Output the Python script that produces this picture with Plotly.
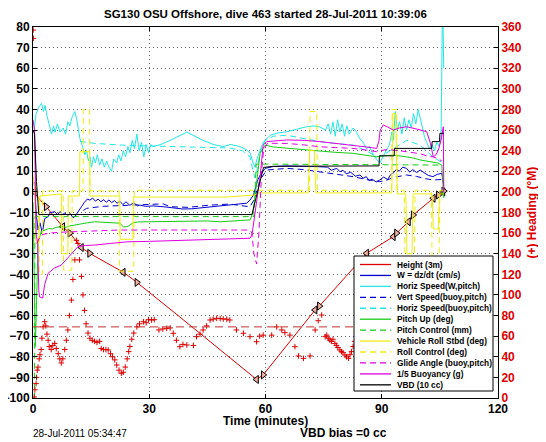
import plotly.graph_objects as go

FONT = "Liberation Sans, Arial, Helvetica, sans-serif"

title_text = "SG130 OSU Offshore, dive 463 started 28-Jul-2011 10:39:06"
x_title = "Time (minutes)"
y2_title = "(+) Heading (°M)"
footer_left = "28-Jul-2011 05:34:47"
footer_mid = "VBD bias =0 cc"
x_ticks = [0, 30, 60, 90, 120]
y_ticks = list(range(-100, 81, 10))
heading_ticks = list(range(0, 361, 20))

# ---------------- data (time in minutes, value) ----------------
height = [(0, 0), (3.4, -7.2), (7.7, -16.9), (9.5, -20.0), (12.5, -27.0), (14.6, -29.8),
          (23.5, -39.2), (26.8, -43.9), (37.9, -60.7), (50.0, -79.0), (57.7, -91.0),
          (59.4, -88.8), (66.0, -73.0), (72.8, -57.3), (73.9, -55.4), (80.0, -42.5),
          (86.1, -29.8), (93.0, -21.7), (93.8, -20.0), (96.9, -14.5), (98.1, -11.2),
          (103.3, -3.1), (104.6, -1.5), (106.0, 0.4)]

gc_start = [(0.3, 0.0), (7.7, -16.9), (12.5, -27.0), (23.3, -39.0), (57.7, -91.0), (72.8, -57.3),
            (86.1, -29.8), (93.0, -21.7), (96.9, -14.5), (103.3, -3.1), (105.8, 0.0)]
gc_end = [(3.4, -7.2), (9.5, -20.0), (14.6, -29.8), (26.8, -43.9), (59.4, -88.8), (73.9, -55.4),
          (93.8, -20.0), (98.1, -11.2), (104.6, -1.5), (106.0, 0.4)]

w_speed = [(0.3, 5), (0.8, -10), (1.3, -18.5), (1.8, -15), (2.4, -20), (3.0, -13), (3.9, -12),
           (4.5, -10), (5.6, -9.6), (6.3, -11), (7.0, -9.5), (7.6, -11), (8.2, -10.3), (9.0, -11.5),
           (9.6, -10.5), (10.3, -12.5), (10.8, -12), (11.6, -10), (12.5, -7.2), (13.3, -5),
           (14.0, -3.5), (14.7, -4), (15.4, -3), (16.1, -4.5), (16.8, -3.5), (17.5, -4.8),
           (18.2, -3.8), (18.9, -5), (19.6, -3.9), (20.3, -5.2), (21.0, -4.2), (21.7, -5.5),
           (22.4, -4.5), (23.2, -6.2), (24.0, -4.8), (25.0, -6.5), (26.0, -5.3), (27.0, -6.8),
           (27.6, -6.4), (29, -7.0), (31, -6.8), (33.6, -7.2), (36, -7.8), (38.7, -8.3),
           (41, -8.2), (43, -7.8), (45.7, -7.2), (48.3, -6.8), (50.8, -6.4), (53, -6.0),
           (55.1, -5.5), (56.0, -4), (56.9, -1.5), (58.0, 5.8), (58.6, 8), (59.9, 11.4),
           (62, 12.3), (65.5, 12.6), (70, 12.5), (74, 12.2), (76, 12.0), (77, 10.5), (78.4, 11.4),
           (79.2, 9.8), (80, 10.5), (80.8, 8.8), (82, 9.5), (83.2, 7.6), (84.4, 8.2), (85.2, 6.6),
           (86, 7.4), (86.8, 5.4), (87.5, 6.2), (88.6, 4.8), (89.5, 5.8), (90.5, 7.2), (91.5, 6.0),
           (92.3, 8.4), (93, 9.2), (93.8, 11.0), (94.5, 10.0), (95.4, 12.0), (96.4, 11.4),
           (97.2, 9.6), (98, 10.8), (99.0, 9.4), (99.9, 10.6), (101, 9.0), (102, 8.0),
           (103.2, 7.4), (104.3, 8.5), (105.5, 9.0), (106.0, 3.0)]

vert_speed_buoy = [(13.0, -9), (13.8, -8), (18, -7), (25, -6.4), (30, -6.2), (33.6, -5.8),
                   (35.4, -7.2), (40, -7.5), (45.7, -6.4), (50.8, -5.9), (53, -6.5), (56, -7.2),
                   (57, -4), (58.6, 5.8), (60.3, 10.6), (63, 11.2), (65.5, 11.4), (70, 10.8),
                   (74, 9.8), (78, 8.7), (82.6, 7.4), (86, 6.0), (89.5, 5.0), (91, 5.5), (93, 7.0),
                   (96.4, 8.2), (99, 7.5), (101, 6.5), (103.2, 5.8), (105.5, 6.0)]

horiz_speed_w = [(0.3, 30), (0.8, 38), (1.5, 41), (2.2, 43), (2.7, 39), (3.1, 42), (3.6, 37),
                 (4.2, 33), (4.8, 28), (5.3, 32), (5.7, 29), (6.3, 33), (7.0, 29), (7.8, 31),
                 (8.4, 28), (9.0, 34), (9.5, 32), (10.2, 37), (10.8, 39), (11.4, 34), (12.1, 26),
                 (12.8, 22), (13.4, 18), (13.8, 20), (14.3, 15), (14.7, 17), (15.1, 12), (15.6, 17),
                 (16.1, 14), (16.6, 18), (17.2, 13), (17.8, 16), (18.4, 12), (19.0, 15), (19.6, 12),
                 (20.3, 10), (20.8, 16), (21.6, 14), (22.1, 18), (22.7, 15), (23.3, 20), (23.9, 17),
                 (24.5, 22), (25.0, 19), (25.6, 25), (26.2, 21), (26.8, 28), (27.4, 20), (28.0, 24),
                 (28.6, 17), (29.2, 23), (29.8, 19), (30.4, 23), (31.0, 22), (33.0, 23), (35.4, 25),
                 (37.5, 27), (39.7, 29), (41.8, 27), (43.9, 25), (46.5, 23), (49.0, 22), (51.0, 23),
                 (53.4, 22), (55.0, 20.5), (56.0, 19), (56.8, 14), (57.3, 12), (57.8, 16), (58.6, 20),
                 (59.4, 24), (61.2, 27.5), (63.0, 28.5), (65.5, 29.2), (68.0, 30.5), (70.6, 31.6),
                 (72.5, 32), (74.0, 31.5), (75.5, 30), (76.2, 33), (76.8, 28), (77.4, 34), (78.0, 27),
                 (78.6, 35), (79.2, 29), (79.8, 33), (80.4, 27), (81.0, 32), (81.6, 28), (82.6, 31),
                 (83.5, 29), (84.3, 26), (85.2, 24), (86.0, 21), (86.8, 22), (87.8, 18), (88.6, 16),
                 (89.5, 14), (90.3, 17), (91.2, 20), (92.0, 23), (92.6, 29), (93.0, 25), (93.5, 39),
                 (94.0, 30), (94.6, 34), (95.2, 28), (95.8, 36), (96.4, 30), (97.0, 35), (97.6, 31),
                 (98.2, 38), (98.8, 33), (99.4, 40), (99.9, 36), (100.5, 30), (101.0, 27),
                 (101.6, 24), (102.3, 21), (103.0, 23), (103.6, 20), (104.2, 24), (104.8, 22),
                 (105.3, 26), (105.7, 95), (106.0, 60)]

horiz_speed_buoy = [(12.1, 24.5), (16, 23.5), (25, 22.5), (33.8, 22), (42, 21.8), (50.8, 21.3),
                    (54, 20), (56, 17), (56.8, 10), (57.3, 6.7), (58, 12), (58.6, 19), (59.9, 25),
                    (62, 27), (65.5, 27.5), (70, 26), (74, 24.4), (78, 23.5), (82.6, 22.7),
                    (86, 20), (88.7, 17), (90.5, 18), (93, 21), (96.4, 25), (99.9, 22.7),
                    (101.5, 20), (103.2, 17), (105.8, 14)]

pitch_up = [(0, -5), (0.3, -40), (0.6, -75), (0.9, -55), (1.3, -25), (2.1, -19.3), (3, -18.5),
            (4, -17.8), (5, -18), (6, -17.2), (7.3, -16.9), (8.5, -17.2), (9.5, -16.5),
            (10.8, -16), (12, -15.5), (14, -15), (15.9, -14.5), (18, -14.8), (20, -15),
            (22.5, -15.2), (23.3, -17), (24.5, -16.8), (25.8, -15), (27, -14.6), (30, -14.5),
            (35, -14.4), (40, -14.3), (45, -14.1), (48.3, -14.5), (52, -14), (56, -13.6),
            (56.8, -10), (58.0, 10), (58.6, 18.7), (59.9, 22.7), (62, 21.8), (65.5, 21.2),
            (68, 20.8), (70.6, 20.3), (74, 19.5), (78, 19.2), (82.6, 18.7), (85, 18),
            (88.7, 17), (91, 17.6), (93, 17.8), (96.4, 17), (98, 16.5), (99.9, 15.5),
            (101.5, 15), (103.2, 14.6), (104.5, 14), (105.5, 13), (106, -3)]

pitch_control = [(0.2, -100), (0.4, -100), (0.5, -12), (57.0, -12), (57.6, 13.5), (106.0, 13.0)]

roll = [(0, 8), (0.4, 3), (0.8, -25), (1.5, -25), (1.8, -2), (7.3, -1), (7.4, -30), (9.0, -30),
        (9.1, -2), (12.0, -2), (12.1, 19.5), (14.6, 19.5), (14.7, -2), (22.4, -2), (22.5, -23),
        (25.8, -23), (25.9, -2.5), (50, -2.5), (57.3, -1.5), (58, -0.5), (71.0, -0.5),
        (71.4, 20), (72.6, 20), (73.0, -0.5), (92.6, -0.5), (92.9, 38), (93.6, 38), (94.0, -1),
        (96.2, -1), (96.5, -30), (97.8, -30), (98.1, -1), (103.0, -1), (103.3, -18),
        (104.6, -18), (104.9, -1), (106, -1)]

roll_control = [(0, 0), (1.5, 0), (1.6, -40), (2.4, -40), (2.5, 0.5), (7.8, 0.5), (7.9, -38),
                (10.0, -38), (10.1, 0.5), (12.9, 0.5), (13.0, 40), (14.6, 40), (14.7, 0.5),
                (22.2, 0.5), (22.3, -38.5), (26.0, -38.5), (26.1, 0.8), (71.3, 0.8), (71.5, 39),
                (73.2, 39), (73.4, 0.8), (92.5, 0.8), (92.7, 40), (93.8, 40), (94.0, 0.8),
                (95.8, 0.8), (96.0, -38), (98.4, -38), (98.6, 0.8), (102.8, 0.8), (103.0, -35),
                (104.8, -35), (105.0, 0.8), (106, 0.8)]

glide_angle = [(1.0, -25), (2.0, -21), (4, -20), (8, -19.5), (15, -19), (22.5, -18.5), (30, -18.5),
               (40, -18.5), (50, -18.2), (56, -18.5), (56.5, -20), (57.0, -30), (57.7, -35),
               (58.3, -20), (59, 10.6), (59.5, 20), (60.5, 23.6), (65.5, 23.5), (70, 22.8),
               (74, 21.9), (78, 21.5), (82.6, 21.1), (86, 20.3), (88.7, 19.5), (91, 20.5),
               (93, 20.3), (96.4, 19.5), (99.9, 18.5), (101.6, 17.5), (103.2, 17), (104.6, 16),
               (105.5, 15)]

buoyancy = [(0, 35), (0.4, 30), (0.8, -20), (1.2, -25), (1.5, -48), (1.7, -51), (2.5, -51.5),
            (3.0, -45), (3.9, -39.5), (5.5, -37), (7.3, -35.5), (8.5, -33), (9.9, -29.8),
            (11.6, -26.6), (13.5, -26), (15.9, -25.8), (20, -25), (24.5, -24.2), (30, -24),
            (40, -23.5), (50, -23), (56, -22.5), (56.5, -21), (58.0, 0), (58.6, 7.4), (59.4, 22.7),
            (60.3, 24.4), (65.5, 25.2), (70, 25), (74, 24.4), (78, 23.6), (82.7, 22.7), (86, 21.8),
            (88.7, 21.1), (89.3, 25), (89.6, 30), (90.4, 32.5), (91.5, 31.5), (93, 30), (94.5, 31),
            (96.4, 31.6), (99, 30.5), (101.6, 29.2), (102.5, 24), (103.3, 17), (104.0, 18),
            (104.6, 20.3), (105.3, 25), (105.9, 31.6), (106, 0)]

vbd = [(0, 30), (0.4, 28), (0.9, 5), (1.5, -11), (56.5, -11), (59.5, 11.9), (62, 12.4),
       (89.3, 12.6), (89.4, 17.5), (93.2, 17.5), (93.3, 21.1), (102.9, 21.1), (103.0, 24.4),
       (104.9, 24.4), (105.0, 28.4), (106, 28.4)]

heading = [(0.05, 357), (0.1, 349), (0.3, 1), (0.5, 8), (0.8, 14), (0.9, 20), (1.1, 27), (1.3, 30),
           (1.6, 38), (1.8, 42), (2.1, 47), (2.3, 58), (2.6, 69), (3.0, 74), (3.3, 70), (3.6, 62),
           (3.9, 56), (4.2, 50), (4.7, 47), (5.1, 51), (5.6, 53), (6.0, 48), (6.5, 43), (6.9, 38),
           (7.3, 34), (7.7, 38), (8.2, 47), (8.6, 56), (9.0, 66), (9.4, 80), (9.9, 95), (10.3, 115),
           (10.8, 134), (11.2, 153), (11.6, 150), (12.0, 134), (12.5, 118), (12.9, 100), (13.3, 85),
           (13.7, 72), (14.2, 63), (14.7, 58), (15.3, 56), (15.9, 55), (16.5, 54), (17.2, 55),
           (17.6, 48), (18.2, 47), (18.8, 47), (19.4, 46.6), (20.0, 43), (20.5, 40), (21.1, 37),
           (21.6, 32), (22.2, 27), (22.8, 24), (23.3, 25), (23.8, 30), (24.3, 38), (24.7, 45),
           (25.0, 50), (25.5, 57), (26.0, 63), (26.8, 69), (27.5, 72), (28.5, 74), (29.2, 73),
           (29.8, 76), (30.6, 75.7), (31.3, 76), (32.5, 66), (33.5, 67), (34.5, 67.6), (35.4, 68),
           (36.2, 62.8), (37.0, 56), (37.9, 49.8), (38.7, 52), (39.7, 51.4), (41.4, 51),
           (42.2, 59.5), (43.1, 62), (43.9, 66), (44.8, 70), (45.7, 75.7), (46.5, 76.5),
           (47.4, 77.3), (48.3, 77), (49.1, 76.7), (50.0, 76.5), (50.8, 75.7), (52.5, 66),
           (54.3, 62.8), (56.0, 59.5), (57.7, 54.6), (58.5, 60), (59.4, 61), (61.6, 61),
           (62.9, 69), (64.2, 66), (65.0, 63.4), (66.3, 61), (67.6, 49.8), (68.5, 40.8),
           (69.8, 38.5), (71.5, 40.8), (72.8, 66), (73.6, 75), (74.5, 80.5), (75.4, 59.5),
           (75.8, 61), (76.2, 58), (76.6, 56.3), (77.0, 55), (77.4, 57), (77.9, 53), (78.3, 51),
           (78.7, 49), (79.2, 46.6), (79.6, 45), (80.0, 44), (80.5, 41.7), (80.9, 40),
           (81.4, 38.5), (81.8, 42), (82.2, 45), (82.6, 50), (83.0, 55)]

heading_target = [(0, 69), (106, 69)]

# ---------------- styling ----------------
RED = "#dd0000"
BLUE = "#0000cc"
CYAN = "#22e6e6"
GREEN = "#14cc14"
YELLOW = "#eeee10"
MAGENTA = "#e000e0"
BLACK = "#000000"
DASH = "6px,4px"

series = [
    ("Height (3m)", height, RED, "solid"),
    ("W = dz/dt (cm/s)", w_speed, BLUE, "solid"),
    ("Horiz Speed(W,pitch)", horiz_speed_w, CYAN, "solid"),
    ("Vert Speed(buoy,pitch)", vert_speed_buoy, BLUE, DASH),
    ("Horiz Speed(buoy,pitch)", horiz_speed_buoy, CYAN, DASH),
    ("Pitch Up (deg)", pitch_up, GREEN, "solid"),
    ("Pitch Control (mm)", pitch_control, GREEN, DASH),
    ("Vehicle Roll Stbd (deg)", roll, YELLOW, "solid"),
    ("Roll Control (deg)", roll_control, YELLOW, DASH),
    ("Glide Angle (buoy,pitch)", glide_angle, MAGENTA, DASH),
    ("1/5 Buoyancy (g)", buoyancy, MAGENTA, "solid"),
    ("VBD (10 cc)", vbd, BLACK, "solid"),
]

fig = go.Figure()

for i, (name, pts, color, dash) in enumerate(series):
    t, v = zip(*pts)
    fig.add_trace(go.Scatter(x=t, y=v, mode="lines", name=name, showlegend=False,
                             line=dict(color=color, width=1, dash=dash)))
    if i == 0:
        for pts2, sym in ((gc_start, "triangle-left"), (gc_end, "triangle-right")):
            tt, vv = zip(*pts2)
            fig.add_trace(go.Scatter(x=tt, y=vv, mode="markers", showlegend=False,
                                     marker=dict(symbol=sym, size=7, color="#f3b0a0",
                                                 line=dict(color="black", width=1))))

ht, hv = zip(*heading)
fig.add_trace(go.Scatter(x=ht, y=hv, yaxis="y2", mode="markers", showlegend=False,
                         marker=dict(symbol="cross-thin", size=4, color=RED,
                                     line=dict(color=RED, width=1))))
tt, tv = zip(*heading_target)
fig.add_trace(go.Scatter(x=tt, y=tv, yaxis="y2", mode="lines", showlegend=False,
                         line=dict(color="#c03030", width=1, dash="8px,5px")))

# ---------------- layout geometry ----------------
# The page body adds an 8px margin, so the figure is made 8px smaller and
# every pixel position below (given in screenshot pixels) is shifted by it.
OFF = 8
FIG_W, FIG_H = 546 - OFF, 442 - OFF
L, R, T, B = 33, 498, 27, 398  # plot area in screenshot pixels


def px(xp):
    return (xp - L) / (R - L)


def py(yp):
    return (B - yp) / (B - T)


shapes = [dict(type="rect", xref="paper", yref="paper", x0=px(354), x1=px(493),
               y0=py(391), y1=py(256), line=dict(color="black", width=1),
               fillcolor="white", layer="above")]
annotations = []
for i, (name, pts, color, dash) in enumerate(series):
    yy = 264.5 + i * 10.94
    shapes.append(dict(type="line", xref="paper", yref="paper", x0=px(360), x1=px(391),
                       y0=py(yy), y1=py(yy), line=dict(color=color, width=1.3, dash=dash),
                       layer="above"))
    annotations.append(dict(text=name, xref="paper", yref="paper", x=px(395), y=py(yy),
                            xanchor="left", yanchor="middle", showarrow=False,
                            font=dict(family=FONT, size=8.3, color="black", weight="bold")))

annotations += [
    dict(text=x_title, xref="paper", yref="paper", x=0.5, y=py(421), xanchor="center",
         yanchor="middle", showarrow=False, font=dict(family=FONT, size=12, color="black", weight="bold")),
    dict(text=footer_left, xref="paper", yref="paper", x=px(31), y=py(434), xanchor="left",
         yanchor="middle", showarrow=False, font=dict(family=FONT, size=10, color="black")),
    dict(text=footer_mid, xref="paper", yref="paper", x=px(343), y=py(433), xanchor="center",
         yanchor="middle", showarrow=False, font=dict(family=FONT, size=12, color="black", weight="bold")),
    dict(text=y2_title, xref="paper", yref="paper", x=px(531), y=0.5, xanchor="center",
         yanchor="middle", textangle=-90, showarrow=False,
         font=dict(family=FONT, size=12, color=RED, weight="bold")),
    dict(text="<b>" + title_text + "</b>", xref="paper", yref="paper", x=0.5, y=py(14),
         xanchor="center", yanchor="middle", showarrow=False,
         font=dict(family=FONT, size=11.5, color="black")),
]

tickfont = dict(family=FONT, size=12, color="black", weight="bold")
GRID = "#666666"
fig.update_layout(
    width=FIG_W, height=FIG_H,
    margin=dict(l=L - OFF, r=FIG_W - (R - OFF), t=T - OFF, b=FIG_H - (B - OFF), pad=0,
                autoexpand=False),
    paper_bgcolor="white", plot_bgcolor="white",
    showlegend=False,
    xaxis=dict(range=[0, 120], tickvals=x_ticks, ticks="inside", ticklen=4, tickcolor="black",
               showline=True, linecolor="black", linewidth=1, mirror="ticks", automargin=False,
               showgrid=True, gridcolor=GRID, griddash="1px,3px", gridwidth=1,
               zeroline=False, tickfont=tickfont),
    yaxis=dict(range=[-100, 80], tickvals=y_ticks, ticks="inside", ticklen=4, tickcolor="black",
               showline=True, linecolor="black", linewidth=1, automargin=False,
               showgrid=True, gridcolor=GRID, griddash="1px,3px", gridwidth=1,
               zeroline=False, tickfont=tickfont),
    yaxis2=dict(range=[0, 360], tickvals=heading_ticks, overlaying="y", side="right",
                ticks="inside", ticklen=4, tickcolor="black", showline=True, linecolor="black",
                linewidth=1, showgrid=False, zeroline=False, automargin=False,
                tickfont=dict(family=FONT, size=12, color=RED, weight="bold")),
    shapes=shapes,
    annotations=annotations,
)

fig.write_html("out.html")
